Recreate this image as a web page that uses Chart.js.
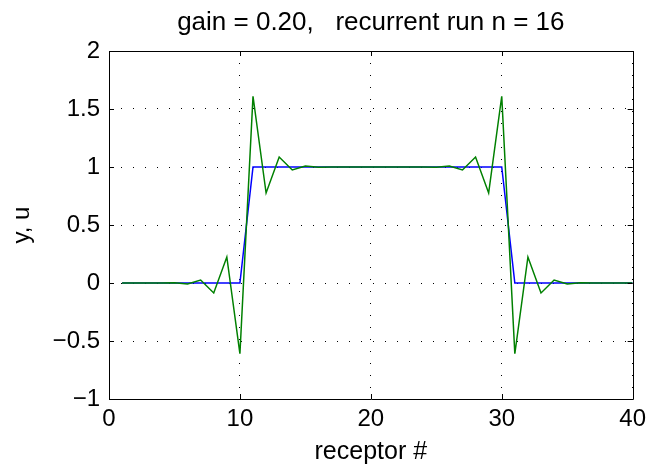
<!DOCTYPE html>
<html>
<head>
<meta charset="utf-8">
<script src="https://cdn.jsdelivr.net/npm/chart.js@4/dist/chart.umd.min.js"></script>
<style>
html,body{margin:0;padding:0;background:#fff;}
#wrap{width:652px;height:469px;position:relative;}
</style>
</head>
<body>
<div id="wrap"><canvas id="c" width="652" height="469"></canvas></div>
<script>
const receptors = [1,2,3,4,5,6,7,8,9,10,11,12,13,14,15,16,17,18,19,20,21,22,23,24,25,26,27,28,29,30,31,32,33,34,35,36,37,38,39,40];
const inputU = [0,0,0,0,0,0,0,0,0,0,1,1,1,1,1,1,1,1,1,1,1,1,1,1,1,1,1,1,1,1,0,0,0,0,0,0,0,0,0,0];
const outputY = [0,0,0,0,0.002,-0.008,0.026,-0.086,0.224,-0.61,1.61,0.776,1.086,0.974,1.008,0.998,1,1,1,1,1,1,1,1,0.998,1.008,0.974,1.086,0.776,1.61,-0.61,0.224,-0.086,0.026,-0.008,0.002,0,0,0,0];
const xTicks = [0,10,20,30,40];
const yTicks = [-1,-0.5,0,0.5,1,1.5,2];
const titleText = 'gain = 0.20,   recurrent run n = 16';
const xLabel = 'receptor #';
const yLabel = 'y, u';

const FONT = '"Liberation Sans", Arial, Helvetica, sans-serif';
const FS = 24;
Chart.defaults.color = '#000';
Chart.defaults.font.family = FONT;
Chart.defaults.font.size = FS;

const fmt = v => String(v).replace('-', '\u2212');

const boxPlugin = {
  id: 'box',
  afterDraw(chart) {
    const {ctx, chartArea: a, scales: {x, y}} = chart;
    ctx.save();
    ctx.strokeStyle = '#000';
    ctx.lineWidth = 1;
    ctx.beginPath();
    ctx.rect(Math.round(a.left) + 0.5, Math.round(a.top) + 0.5, Math.round(a.right - a.left), Math.round(a.bottom - a.top));
    ctx.stroke();
    const L = 5;
    ctx.beginPath();
    xTicks.forEach(v => {
      const px = Math.round(x.getPixelForValue(v)) + 0.5;
      ctx.moveTo(px, a.bottom); ctx.lineTo(px, a.bottom - L);
      ctx.moveTo(px, a.top); ctx.lineTo(px, a.top + L);
    });
    yTicks.forEach(v => {
      const py = Math.round(y.getPixelForValue(v)) + 0.5;
      ctx.moveTo(a.left, py); ctx.lineTo(a.left + L, py);
      ctx.moveTo(a.right, py); ctx.lineTo(a.right - L, py);
    });
    ctx.stroke();
    // title centred over the axes
    ctx.fillStyle = '#000';
    ctx.font = '26px ' + FONT;
    ctx.textAlign = 'center';
    ctx.textBaseline = 'alphabetic';
    ctx.fillText(titleText, (a.left + a.right) / 2, 30);
    ctx.restore();
  }
};

new Chart(document.getElementById('c'), {
  type: 'line',
  data: {
    datasets: [
      {
        label: 'y',
        data: receptors.map((r, i) => ({x: r, y: outputY[i]})),
        borderColor: '#008000',
        borderWidth: 1.5,
        pointRadius: 0,
        tension: 0,
        order: 0
      },
      {
        label: 'u',
        data: receptors.map((r, i) => ({x: r, y: inputU[i]})),
        borderColor: '#0000ff',
        borderWidth: 1.5,
        pointRadius: 0,
        tension: 0,
        order: 1
      }
    ]
  },
  options: {
    responsive: false,
    animation: false,
    events: [],
    layout: {padding: {left: 0, right: 18, top: 51, bottom: 0}},
    plugins: {
      legend: {display: false},
      tooltip: {enabled: false},
      title: {display: false}
    },
    scales: {
      x: {
        type: 'linear',
        min: 0, max: 40,
        afterFit: s => { s.height = 70; },
        afterBuildTicks: s => { s.ticks = xTicks.map(v => ({value: v})); },
        ticks: {color: '#000', padding: 6, maxRotation: 0, callback: v => fmt(v), font: {size: FS}},
        grid: {color: '#000', lineWidth: 1, drawTicks: false},
        border: {display: false, dash: [1, 11]},
        title: {display: true, text: xLabel, color: '#000', font: {size: 25}, padding: {top: 0, bottom: 2}}
      },
      y: {
        type: 'linear',
        min: -1, max: 2,
        afterFit: s => { s.width = 109; },
        afterBuildTicks: s => { s.ticks = yTicks.map(v => ({value: v})); },
        ticks: {color: '#000', padding: 9, callback: v => fmt(v), font: {size: FS}},
        grid: {color: '#000', lineWidth: 1, drawTicks: false},
        border: {display: false, dash: [1, 11]},
        title: {display: true, text: yLabel, color: '#000', font: {size: FS}, padding: {top: 8, bottom: 0}}
      }
    }
  },
  plugins: [boxPlugin]
});
</script>
</body>
</html>
